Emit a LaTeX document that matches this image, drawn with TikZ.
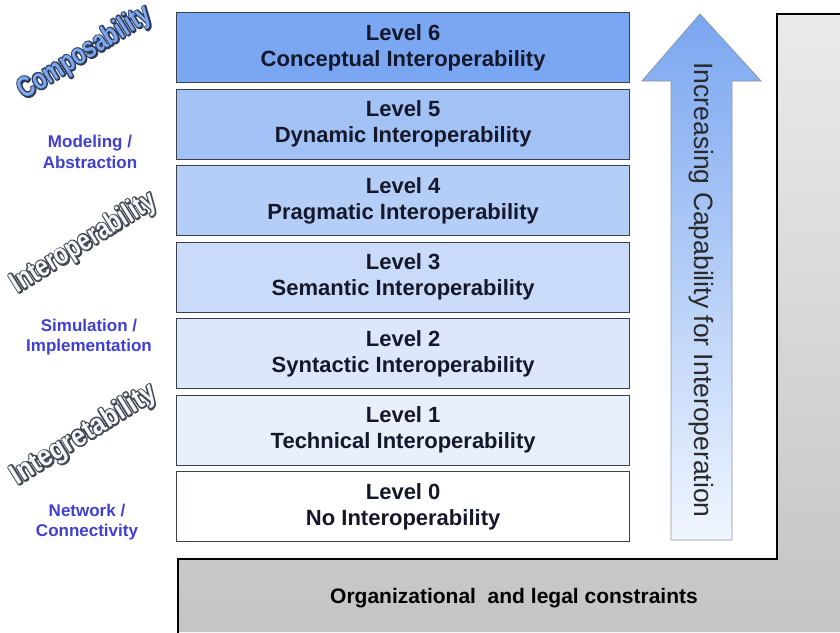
\documentclass[tikz,border=0pt]{standalone}
\usepackage{fontspec}
\setmainfont{Liberation Sans}
\usepackage{graphicx}
\definecolor{lvsix}{HTML}{7BA7F2}
\definecolor{lvfive}{HTML}{A2C1F5}
\definecolor{lvfour}{HTML}{B5CEF7}
\definecolor{lvthree}{HTML}{C9DBF9}
\definecolor{lvtwo}{HTML}{DCE7FA}
\definecolor{lvone}{HTML}{E8F0FC}
\definecolor{lvzero}{HTML}{FFFFFF}
\definecolor{boxedge}{HTML}{3A3F4A}
\definecolor{boxtext}{HTML}{15182A}
\definecolor{labelblue}{HTML}{4040D0}
\definecolor{arrowedge}{HTML}{8A96A8}
\definecolor{arrowtop}{HTML}{7AA6F0}
\definecolor{arrowbottom}{HTML}{F0F6FF}
\definecolor{arrowtxt}{HTML}{2A2A2A}
\definecolor{artblue}{HTML}{7FA9EE}
\definecolor{artblueedge}{HTML}{2F3A5A}
\definecolor{artgrayedge}{HTML}{454850}
\definecolor{artwhite}{HTML}{F4F7FC}
% glyphs widened by a thick stroke in the current colour
\newcommand{\thicktext}[1]{%
  \special{pdf:code 2 Tr 3.4 w 1 j}#1\special{pdf:code 0 Tr}}
\begin{document}
\begin{tikzpicture}[x=1pt,y=-1pt,
  levelbox/.style={draw=boxedge, line width=1.3pt, anchor=north west,
    minimum width=453pt, minimum height=70pt, inner sep=0pt, align=center,
    text=boxtext, font=\bfseries\fontsize{22}{26}\selectfont},
  sidelabel/.style={align=center, text=labelblue,
    font=\bfseries\fontsize{17}{20.5}\selectfont},
  wordart/.style={inner sep=0pt, rotate=32,
    font=\bfseries\fontsize{29}{29}\selectfont},
  arrowlabel/.style={rotate=-90, text=arrowtxt, font=\fontsize{26.5}{28}\selectfont},
  baselabel/.style={text=black, font=\bfseries\fontsize{21}{24}\selectfont}]
\useasboundingbox (0,0) rectangle (840,632);
\fill[white] (0,0) rectangle (840,632);

% stepped grey background for the constraints
\shade[top color=black!8, bottom color=black!23]
  (178,632) -- (178,559) -- (777,559) -- (777,14) -- (840,14) -- (840,632) -- cycle;
\draw[line width=2pt, black] (178,633) -- (178,559) -- (777,559) -- (777,14) -- (841,14);
\node[baselabel] (constraints) at (514,598) {Organizational\ \ and legal constraints};

% the seven levels
\foreach \lv/\col/\ttl in {6/lvsix/Conceptual, 5/lvfive/Dynamic, 4/lvfour/Pragmatic,
    3/lvthree/Semantic, 2/lvtwo/Syntactic, 1/lvone/Technical, 0/lvzero/No} {
  \node[levelbox, fill=\col] (level\lv) at (176,{12+(6-\lv)*76.5})
    {Level \lv\\\ttl\ Interoperability};
}

% upward arrow
\shade[top color=arrowtop, bottom color=arrowbottom, draw=arrowedge, line width=0.8pt]
  (700,14) -- (761,81) -- (732,81) -- (732,540) -- (671,540) -- (671,81) -- (642,81) -- cycle;
\node[arrowlabel] (capability) at (701,290) {Increasing Capability for Interoperation};

% side labels
\node[sidelabel] (modeling) at (90,152) {Modeling /\\Abstraction};
\node[sidelabel] (simulation) at (89,337) {Simulation /\\Implementation};
\node[sidelabel] (network) at (87,522) {Network /\\Connectivity};

% outlined slanted titles: a widened dark copy under the filled glyphs
\foreach \nm/\px/\py/\sc/\fc/\ec/\txt in {
    composability/85/53/0.76/artblue/artblueedge/Composability,
    interoperability/84/243/0.79/artwhite/artgrayedge/Interoperability,
    integretability/84/435/0.87/artwhite/artgrayedge/Integretability} {
  \node[wordart, text=\ec] (\nm-edge) at (\px,\py) {\scalebox{\sc}[1]{\thicktext{\txt}}};
  \node[wordart, text=\fc] (\nm) at (\px,\py) {\scalebox{\sc}[1]{\txt}};
}
\end{tikzpicture}
\end{document}
